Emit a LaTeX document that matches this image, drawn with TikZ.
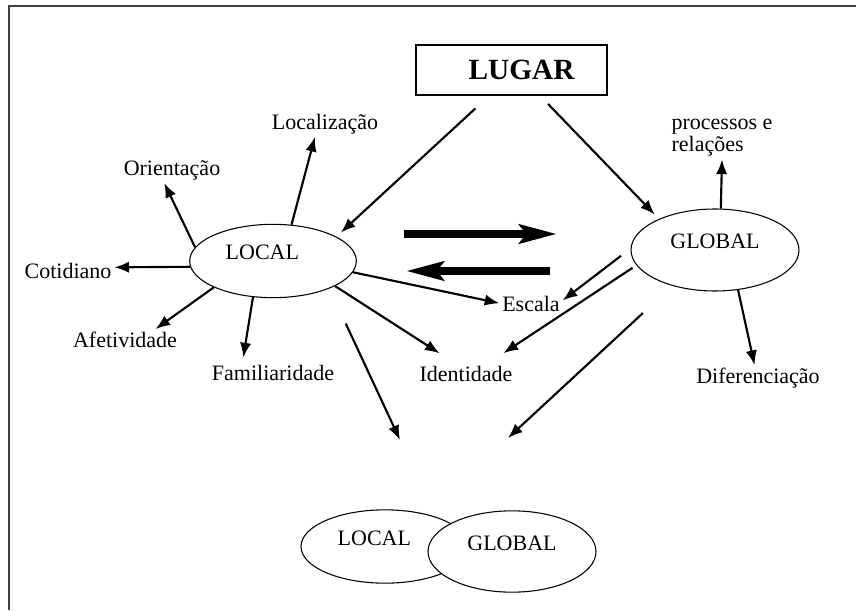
\documentclass[tikz,border=0pt]{standalone}
\usepackage{fontspec}
\setmainfont{Liberation Serif}
\usetikzlibrary{arrows.meta, shapes.geometric}
\tikzset{
    lbl/.style={font=\fontsize{16.5}{16.5}\selectfont, inner sep=2pt},
    word/.style={lbl, text height=11.5pt, text depth=3.5pt},
    blob/.style={shape=ellipse, draw, line width=0.8pt, inner sep=0pt,
        font=\fontsize{16.5}{16.5}\selectfont, text height=11pt, text depth=13pt},
    arr/.style={line width=1.6pt, -{Latex[length=11pt, width=8.5pt]}},
    fat/.style={line width=6pt, -{Stealth[length=28pt, width=14pt, inset=5pt]}},
}
\begin{document}
\begin{tikzpicture}[x=0.75pt, y=-0.75pt]
    \useasboundingbox (0, 0) rectangle (856, 610);
    \draw[line width=1.5pt, black!75] (9, 610) -- (9, 6) -- (856, 6);

    \node (lugar) at (511.5, 70) [shape=rectangle, draw, line width=1.2pt, minimum width=143pt, minimum height=37.5pt, inner sep=0pt, font=\fontsize{22}{22}\selectfont\bfseries] {\hspace*{15pt}LUGAR};

    \node (local) at (273, 261) [blob, minimum width=125pt, minimum height=55pt] {\hspace*{-16pt}LOCAL};
    \node (global) at (715, 250) [blob, minimum width=126pt, minimum height=61.5pt] {GLOBAL};
    \node (botlocal) at (385, 546.5) [blob, minimum width=126pt, minimum height=55pt] {\hspace*{-16pt}LOCAL};
    \node (botglobal) at (512, 551.5) [blob, fill=white, minimum width=126pt, minimum height=61pt] {GLOBAL};

    \node (localizacao) at (325, 124) [word] {Localização};
    \node (orientacao) at (172, 170) [word] {Orientação};
    \node (cotidiano) at (68, 273) [word] {Cotidiano};
    \node (afetividade) at (125, 342) [word] {Afetividade};
    \node (familiaridade) at (273, 375) [word] {Familiaridade};
    \node (identidade) at (466, 376) [word] {Identidade};
    \node (escala) at (531, 306) [word] {Escala};
    \node (diferenciacao) at (758, 378) [word] {Diferenciação};
    \node (processos) at (722, 138) [lbl, align=left] {processos e\\relações};

    \coordinate (meetl) at (400, 440);
    \coordinate (meetr) at (508, 438);
    \coordinate (fwd0) at (404, 234);
    \coordinate (fwd1) at (557, 234);
    \coordinate (back0) at (550, 271);
    \coordinate (back1) at (406, 271);

    \draw[arr, shorten <=14pt, shorten >=4.5pt] (lugar.229) -- (local.21);
    \draw[arr, shorten <=8.5pt, shorten >=4.5pt] (lugar.318) -- (global.151);

    \draw[fat] (fwd0) -- (fwd1);
    \draw[fat] (back0) -- (back1);

    \draw[arr] (local.63) -- (localizacao.232);
    \draw[arr] (local.170) -- (orientacao.239);
    \draw[arr] (local.184) -- (cotidiano.7);
    \draw[arr] (local.204) -- (afetividade.23);
    \draw[arr, shorten >=3.5pt] (local.241) -- (familiaridade.157);
    \draw[arr, shorten >=13.5pt] (local.338) -- (identidade.131);
    \draw[arr] (local.352) -- (escala.175);
    \draw[arr, shorten <=29pt] (local.334) -- (meetl);

    \draw[arr] (global.82) -- (processos.south);
    \draw[arr] (global.300) -- (diferenciacao.105);
    \draw[arr, shorten <=9pt] (global.179) -- (escala.10);
    \draw[arr, shorten <=3.5pt, shorten >=13.5pt] (global.191) -- (identidade.30);
    \draw[arr, shorten <=30pt] (global.220) -- (meetr);
\end{tikzpicture}
\end{document}
